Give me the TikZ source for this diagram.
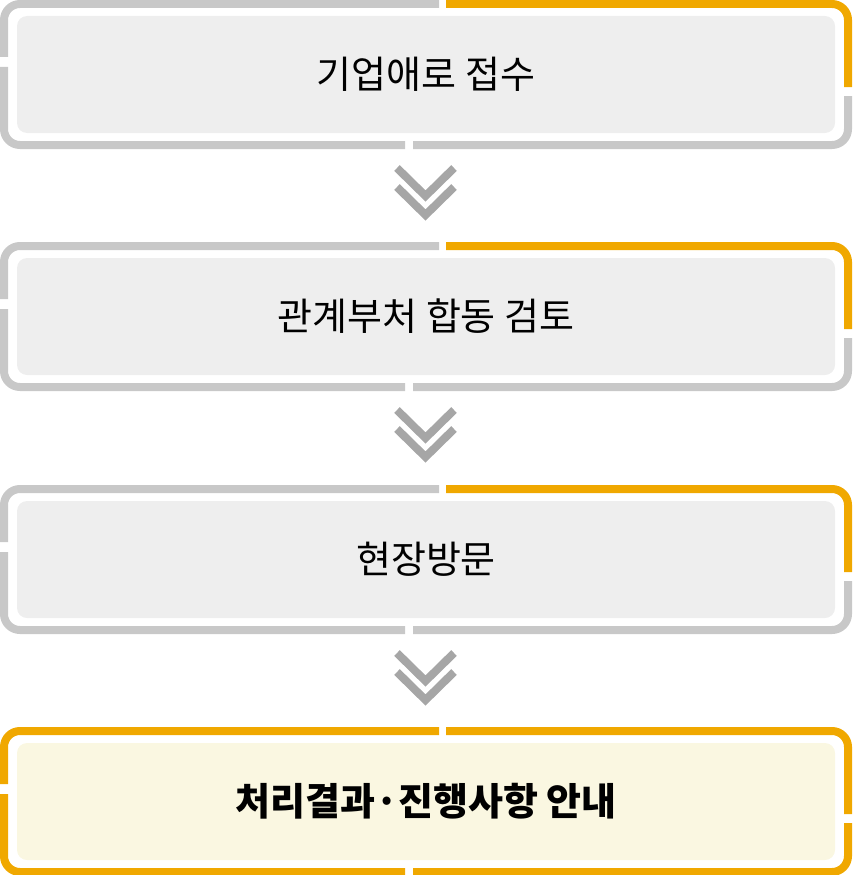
\documentclass[tikz,border=0pt]{standalone}
\usepackage{fontspec}
\newfontfamily\kr{Noto Sans CJK KR}
\definecolor{bgray}{HTML}{C8C8C8}
\definecolor{borange}{HTML}{F0A800}
\definecolor{bfill}{HTML}{EEEEEE}
\definecolor{yfill}{HTML}{FAF7E1}
\definecolor{chev}{HTML}{A6A6A6}
\begin{document}
\begin{tikzpicture}[x=1pt,y=-1pt,
  seg/.style={line width=8pt,rounded corners=16pt},
  inner/.style={rounded corners=10pt},
  chevline/.style={draw=chev,line width=8pt,line join=miter}]
\useasboundingbox (0,0) rectangle (852,875);
\foreach \t/\nm/\txt/\c/\f/\b in {0/b1/{기업애로 접수}/bgray/bfill/,242/b2/{관계부처 합동 검토}/bgray/bfill/,485/b3/{현장방문}/bgray/bfill/,727/b4/{처리결과·진행사항 안내}/borange/yfill/\bfseries}{
  \begin{scope}[yshift=-\t pt]
    \fill[\f,inner] (17,16) rectangle (835,133);
    \draw[\c,seg] (439,4) -- (4,4) -- (4,57);
    \draw[\c,seg] (4,67) -- (4,145) -- (405,145);
    \draw[\c,seg] (413,145) -- (848,145) -- (848,96);
    \draw[borange,seg] (446,4) -- (848,4) -- (848,87);
    \node[font=\kr\b\fontsize{38}{44}\selectfont] (\nm) at (426,74.5) {\txt};
  \end{scope}
}
\foreach \t in {0,242,485}{
  \begin{scope}[yshift=-\t pt]
    \draw[chevline] (397,168) -- (425.5,196) -- (454,168);
    \draw[chevline] (397,187) -- (425.5,215) -- (454,187);
  \end{scope}
}
\end{tikzpicture}
\end{document}
